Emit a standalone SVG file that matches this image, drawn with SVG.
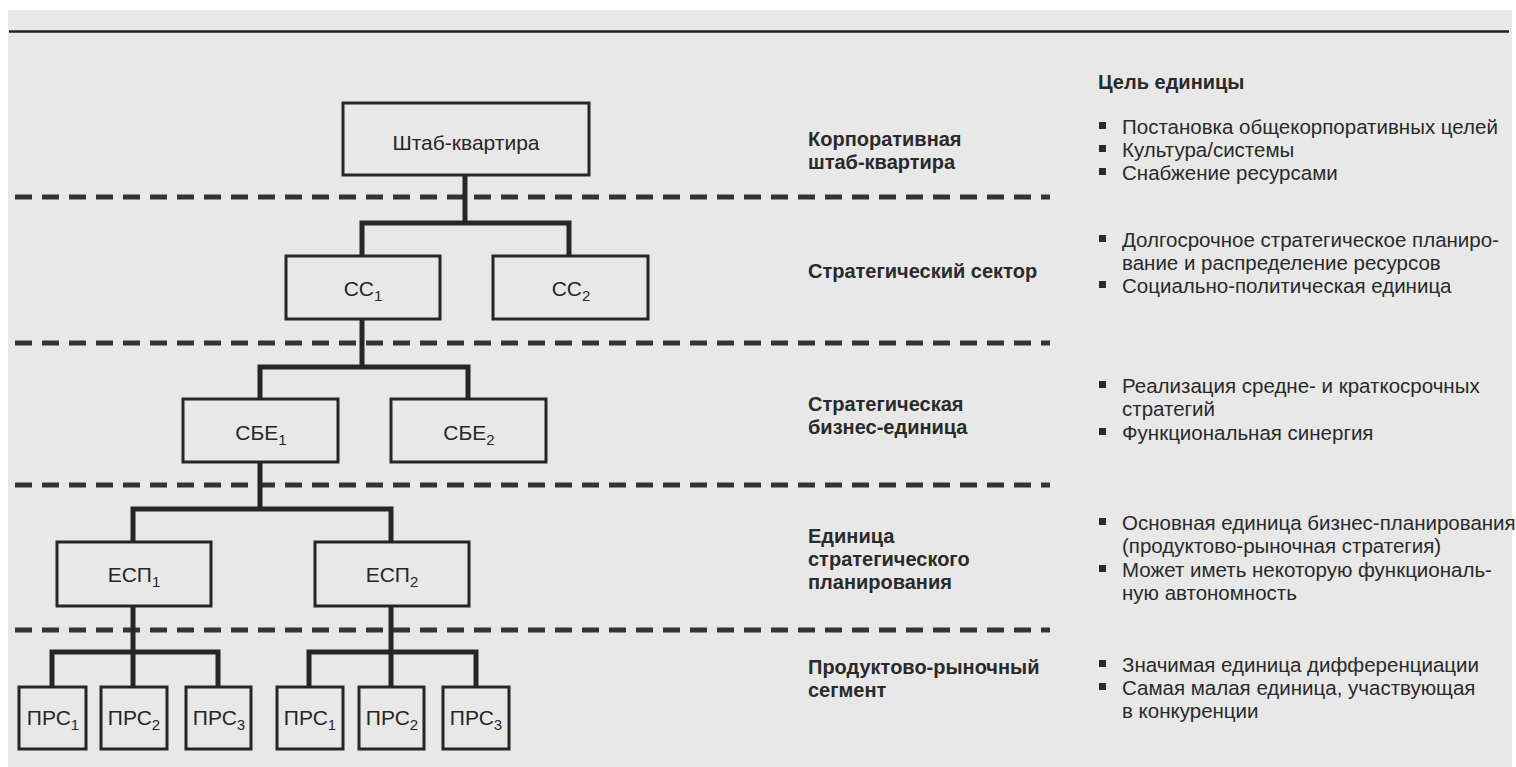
<svg xmlns="http://www.w3.org/2000/svg" width="1516" height="767" viewBox="0 0 1516 767">
<style>
.box{fill:none;stroke:#262626;stroke-width:3}
.con{fill:none;stroke:#262626;stroke-width:5;stroke-linejoin:miter;stroke-linecap:butt}
.dash{stroke:#333;stroke-width:5;stroke-dasharray:17 10}
.nt{font-family:"Liberation Sans",Arial,sans-serif;font-size:21px;fill:#262626;text-anchor:middle}
.sub{font-size:15px}
.lv{font-family:"Liberation Sans",Arial,sans-serif;font-size:20px;font-weight:bold;fill:#2a2a2a}
.tx{font-family:"Liberation Sans",Arial,sans-serif;font-size:20.5px;fill:#2a2a2a}
.bul{fill:#2a2a2a}
</style>
<rect x="0" y="0" width="1516" height="767" fill="#ffffff"/>
<rect x="8" y="10" width="1504" height="757" fill="#e8e8e8"/>
<line x1="9" y1="31.5" x2="1509" y2="31.5" stroke="#222" stroke-width="2.5"/>
<g id="separators">
<line class="dash" x1="15" y1="197" x2="1050" y2="197"/>
<line class="dash" x1="15" y1="343" x2="1050" y2="343"/>
<line class="dash" x1="15" y1="485" x2="1050" y2="485"/>
<line class="dash" x1="15" y1="630" x2="1050" y2="630"/>
</g>
<g id="connectors">
<path class="con" d="M465 175 V223 M362 256 V223 H569 V256"/>
<path class="con" d="M362 319 V367 M260 399 V367 H468 V399"/>
<path class="con" d="M260 462 V509 M133 542 V509 H391 V542"/>
<path class="con" d="M133 606 V652 M52 687 V652 H218 V687 M133 652 V687"/>
<path class="con" d="M391 606 V652 M309 687 V652 H476 V687 M391 652 V687"/>
</g>
<g id="hq"><rect class="box" x="343" y="103" width="246" height="72"/><text class="nt" x="466" y="150">Штаб-квартира</text></g>
<g id="ss1"><rect class="box" x="286" y="256" width="154" height="63"/><text class="nt" x="363" y="296">СС<tspan class="sub" dy="5">1</tspan></text></g>
<g id="ss2"><rect class="box" x="493" y="256" width="155" height="63"/><text class="nt" x="571" y="296">СС<tspan class="sub" dy="5">2</tspan></text></g>
<g id="sbe1"><rect class="box" x="183" y="399" width="155" height="63"/><text class="nt" x="261" y="440">СБЕ<tspan class="sub" dy="5">1</tspan></text></g>
<g id="sbe2"><rect class="box" x="391" y="399" width="155" height="63"/><text class="nt" x="469" y="440">СБЕ<tspan class="sub" dy="5">2</tspan></text></g>
<g id="esp1"><rect class="box" x="57" y="542" width="154" height="64"/><text class="nt" x="134" y="582">ЕСП<tspan class="sub" dy="5">1</tspan></text></g>
<g id="esp2"><rect class="box" x="315" y="542" width="154" height="64"/><text class="nt" x="392" y="582">ЕСП<tspan class="sub" dy="5">2</tspan></text></g>
<g id="prs1a"><rect class="box" x="19" y="687" width="67" height="62"/><text class="nt" x="53" y="725">ПРС<tspan class="sub" dy="5">1</tspan></text></g>
<g id="prs2a"><rect class="box" x="101" y="687" width="66" height="62"/><text class="nt" x="134" y="725">ПРС<tspan class="sub" dy="5">2</tspan></text></g>
<g id="prs3a"><rect class="box" x="186" y="687" width="65" height="62"/><text class="nt" x="219" y="725">ПРС<tspan class="sub" dy="5">3</tspan></text></g>
<g id="prs1b"><rect class="box" x="277" y="687" width="66" height="62"/><text class="nt" x="310" y="725">ПРС<tspan class="sub" dy="5">1</tspan></text></g>
<g id="prs2b"><rect class="box" x="359" y="687" width="65" height="62"/><text class="nt" x="392" y="725">ПРС<tspan class="sub" dy="5">2</tspan></text></g>
<g id="prs3b"><rect class="box" x="443" y="687" width="66" height="62"/><text class="nt" x="476" y="725">ПРС<tspan class="sub" dy="5">3</tspan></text></g>
<g id="levels">
<text class="lv" x="808" y="146">Корпоративная</text>
<text class="lv" x="808" y="169">штаб-квартира</text>
<text class="lv" x="808" y="278">Стратегический сектор</text>
<text class="lv" x="808" y="411">Стратегическая</text>
<text class="lv" x="808" y="434">бизнес-единица</text>
<text class="lv" x="808" y="543">Единица</text>
<text class="lv" x="808" y="566">стратегического</text>
<text class="lv" x="808" y="589">планирования</text>
<text class="lv" x="808" y="674">Продуктово-рыночный</text>
<text class="lv" x="808" y="697">сегмент</text>
</g>
<g id="goals">
<text class="lv" x="1098" y="89">Цель единицы</text>
<rect class="bul" x="1099" y="122" width="7" height="7"/><text class="tx" x="1122" y="134">Постановка общекорпоративных целей</text>
<rect class="bul" x="1099" y="145" width="7" height="7"/><text class="tx" x="1122" y="157">Культура/системы</text>
<rect class="bul" x="1099" y="168" width="7" height="7"/><text class="tx" x="1122" y="180">Снабжение ресурсами</text>
<rect class="bul" x="1099" y="235" width="7" height="7"/><text class="tx" x="1122" y="247">Долгосрочное стратегическое планиро-</text>
<text class="tx" x="1122" y="270">вание и распределение ресурсов</text>
<rect class="bul" x="1099" y="281" width="7" height="7"/><text class="tx" x="1122" y="293">Социально-политическая единица</text>
<rect class="bul" x="1099" y="381" width="7" height="7"/><text class="tx" x="1122" y="393">Реализация средне- и краткосрочных</text>
<text class="tx" x="1122" y="416">стратегий</text>
<rect class="bul" x="1099" y="428" width="7" height="7"/><text class="tx" x="1122" y="440">Функциональная синергия</text>
<rect class="bul" x="1099" y="518" width="7" height="7"/><text class="tx" x="1122" y="530">Основная единица бизнес-планирования</text>
<text class="tx" x="1122" y="553">(продуктово-рыночная стратегия)</text>
<rect class="bul" x="1099" y="565" width="7" height="7"/><text class="tx" x="1122" y="577">Может иметь некоторую функциональ-</text>
<text class="tx" x="1122" y="600">ную автономность</text>
<rect class="bul" x="1099" y="660" width="7" height="7"/><text class="tx" x="1122" y="672">Значимая единица дифференциации</text>
<rect class="bul" x="1099" y="683" width="7" height="7"/><text class="tx" x="1122" y="695">Самая малая единица, участвующая</text>
<text class="tx" x="1122" y="718">в конкуренции</text>
</g>
</svg>
